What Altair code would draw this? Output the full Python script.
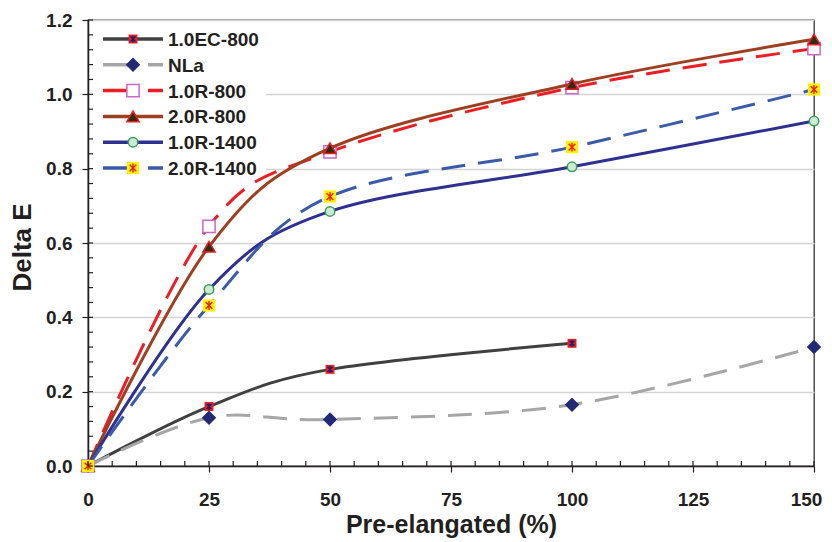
import altair as alt
import pandas as pd

# ---------------- data ----------------
x_pts = [0, 25, 50, 100, 150]
series_names = ["1.0EC-800", "NLa", "1.0R-800", "2.0R-800", "1.0R-1400", "2.0R-1400"]
ec800 = [0.0, 0.16, 0.26, 0.33]
nla = [0.0, 0.13, 0.125, 0.165, 0.32]
r800_10 = [0.0, 0.645, 0.845, 1.018, 1.123]
r800_20 = [0.0, 0.59, 0.855, 1.028, 1.148]
r1400_10 = [0.0, 0.475, 0.685, 0.805, 0.928]
r1400_20 = [0.0, 0.432, 0.725, 0.858, 1.013]
series_values = [ec800, nla, r800_10, r800_20, r1400_10, r1400_20]
y_ticks = [0.0, 0.2, 0.4, 0.6, 0.8, 1.0, 1.2]
x_ticks = [0, 25, 50, 75, 100, 125, 150]

FONT = "Liberation Sans"
W, H = 726, 446
STAR = "M-0.75,-0.75L0.75,0.75M0.75,-0.75L-0.75,0.75M0,-1L0,1"

styles = [
    dict(line="#404040", dash=None, shape="square", size=80, fill="#ED1C24", stroke=None, star="#1B1F6B", star_size=45),
    dict(line="#A6A6A6", dash=[24, 13], shape="diamond", size=210, fill="#232A75", stroke=None, star=None),
    dict(line="#EE1D23", dash=[24, 13], shape="square", size=150, fill="#FFFFFF", stroke="#CC66CC", star=None),
    dict(line="#9E3F22", dash=None, shape="triangle-up", size=150, fill="#2E2E0E", stroke="#ED1C24", star=None),
    dict(line="#2E3192", dash=None, shape="circle", size=90, fill="#CDEBD2", stroke="#3C9C5E", star=None),
    dict(line="#3A5BAA", dash=[24, 13], shape="square", size=150, fill="#FFF200", stroke=None, star="#ED1C24", star_size=80),
]

XS = alt.Scale(domain=[0, 150], nice=False, zero=False)
YS = alt.Scale(domain=[0, 1.2], nice=False, zero=False)
X = alt.X("x:Q", scale=XS,
          axis=alt.Axis(values=x_ticks, title="Pre-elangated (%)", grid=False, labelFlush=False,
                        labelOffset={"condition": {"test": "datum.value == 150", "value": -8}, "value": 0},
                        tickSize=6, labelPadding=18, titleY=66, titleBaseline="alphabetic",
                        titleFontSize=25))
Y = alt.Y("y:Q", scale=YS,
          axis=alt.Axis(values=y_ticks, format=".1f", title="Delta E", grid=True, labelFlush=False,
                        tickSize=6, labelPadding=10, titleX=-58, titleY=227,
                        titleBaseline="alphabetic", titleAngle=-90))

one = alt.Data(values=[{"a": 1}])
layers = []


def point_layers(data, st, xenc, yenc):
    out = []
    kw = dict(shape=st["shape"], size=st["size"], fill=st["fill"], opacity=1, fillOpacity=1)
    if st["stroke"]:
        kw.update(stroke=st["stroke"], strokeWidth=1.5)
    else:
        kw.update(strokeWidth=0)
    out.append(alt.Chart(data).mark_point(**kw).encode(x=xenc, y=yenc))
    if st["star"]:
        out.append(alt.Chart(data).mark_point(shape=STAR, size=st["star_size"], filled=False,
                                              stroke=st["star"], strokeWidth=1.4, opacity=1)
                   .encode(x=xenc, y=yenc))
    return out


# series lines and markers
for i, (name, vals, st) in enumerate(zip(series_names, series_values, styles)):
    df = pd.DataFrame({"x": x_pts[:len(vals)], "y": vals})
    lkw = dict(color=st["line"], strokeWidth=3, interpolate="cardinal", tension=0)
    if st["dash"]:
        lkw["strokeDash"] = st["dash"]
    if i == 0:
        # legend background drawn right above the grid, below the series
        layers.append(alt.Chart(df).mark_rect(fill="white").encode(
            x=alt.value(2), x2=alt.value(178), y=alt.value(2), y2=alt.value(162)))
    layers.append(alt.Chart(df).mark_line(**lkw).encode(x=X, y=Y))
    layers += point_layers(df, st, X, Y)

# legend entries
for i, (name, st) in enumerate(zip(series_names, styles)):
    yy = 19 + 25.8 * i
    rkw = dict(color=st["line"], strokeWidth=3.5)
    if st["dash"]:
        rkw["strokeDash"] = [32, 13]
    layers.append(alt.Chart(one).mark_rule(**rkw).encode(
        x=alt.value(15), x2=alt.value(75), y=alt.value(yy)))
    layers += point_layers(one, st, alt.value(45), alt.value(yy))
    layers.append(alt.Chart(one).mark_text(align="left", baseline="middle", font=FONT,
                                           fontSize=19, fontWeight="bold", color="#231F20").encode(
        x=alt.value(80), y=alt.value(yy + 1), text=alt.value(name)))

# minor / inner ticks
xm = pd.DataFrame({"x": list(range(0, 151, 5))})
ym = pd.DataFrame({"y": [round(i * 0.04, 2) for i in range(0, 31)]})
layers.append(alt.Chart(xm).mark_rule(color="#231F20", strokeWidth=1.2).encode(
    x=X, y=alt.value(H - 5), y2=alt.value(H)))
layers.append(alt.Chart(ym).mark_rule(color="#231F20", strokeWidth=1.2).encode(
    y=Y, x=alt.value(0), x2=alt.value(5)))

chart = alt.layer(*layers).properties(
    width=W, height=H, autosize="none",
    padding={"left": 80, "top": 12, "right": 10, "bottom": 72},
).configure_view(stroke="#333333", strokeWidth=1.3).configure_axis(
    labelFont=FONT, labelFontSize=19, labelFontWeight="bold", labelColor="#231F20",
    titleFont=FONT, titleFontSize=26, titleFontWeight="bold", titleColor="#231F20",
    domainColor="#231F20", domainWidth=1.5, tickColor="#231F20", tickWidth=1.2,
    gridColor="#D4D4D4", gridWidth=1.5,
).configure_axisX(labelBaseline="top")

chart.save("out.html", embed_options={"renderer": "svg", "actions": False})
